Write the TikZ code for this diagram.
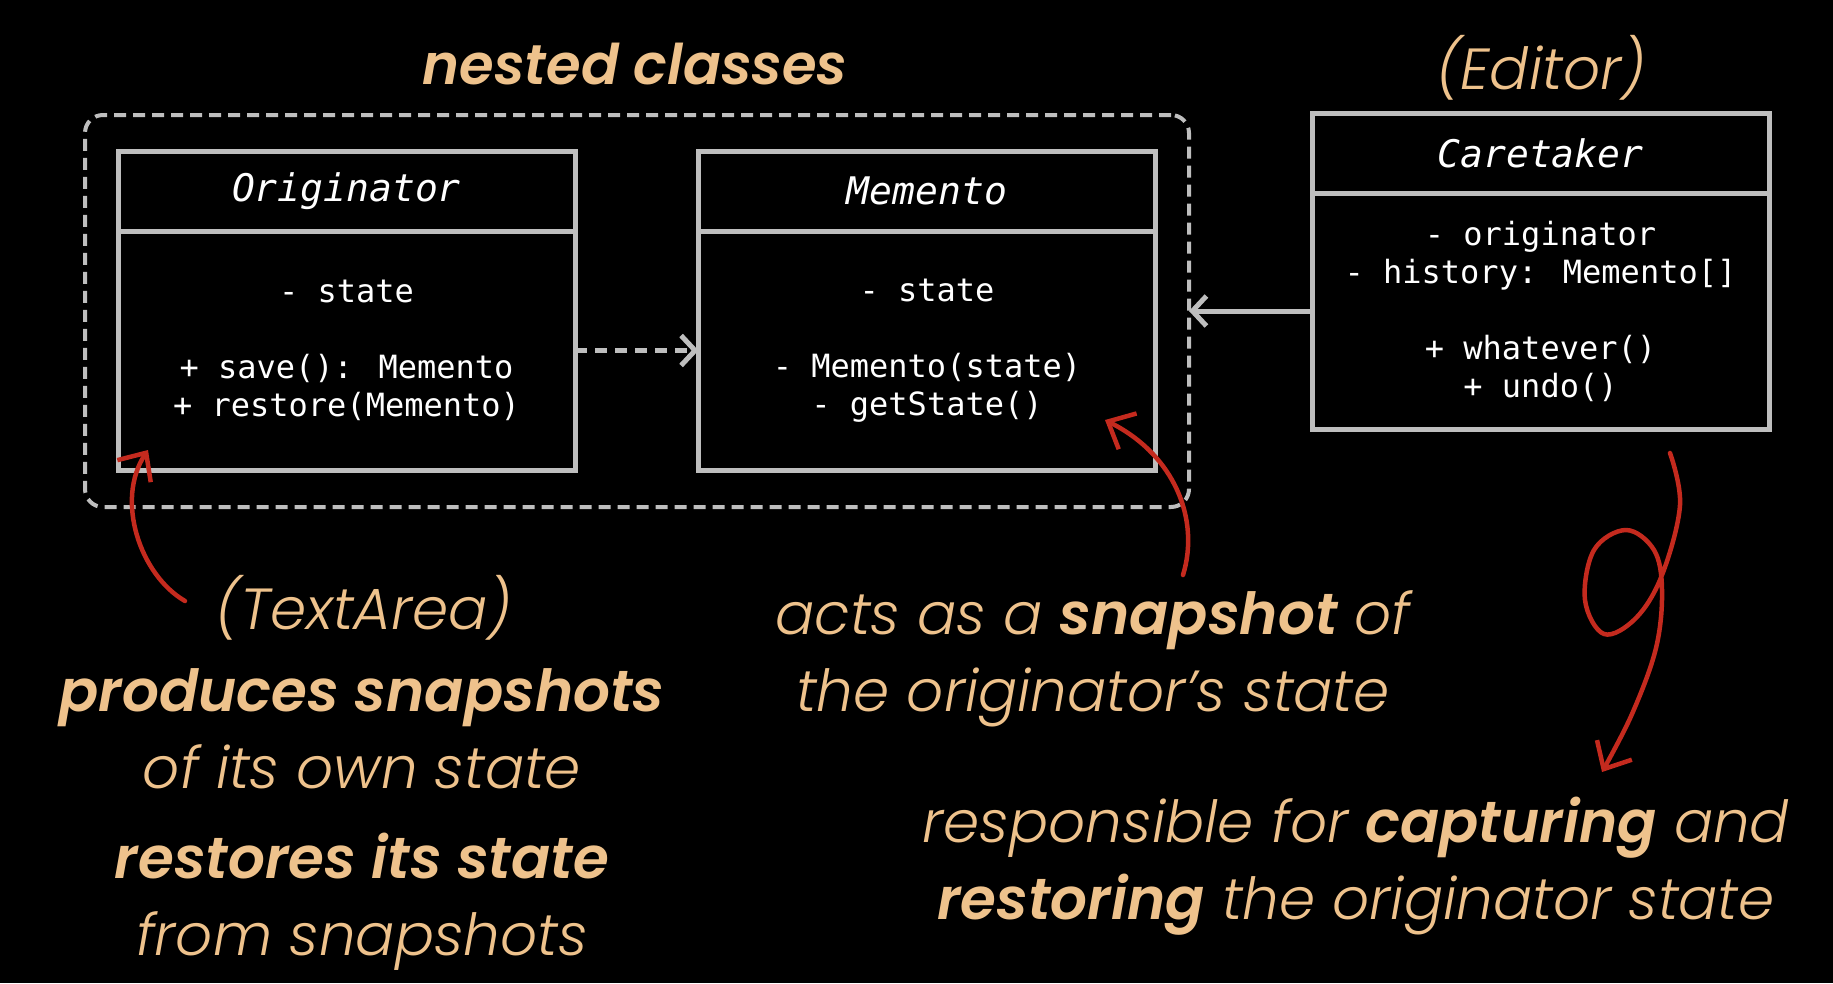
\documentclass[tikz,border=0pt]{standalone}
\usepackage{fontspec}
\usetikzlibrary{arrows.meta,positioning}
\newfontfamily\monofam{DejaVu Sans Mono}
\newfontfamily\notefam{Poppins}[UprightFont=* Light, ItalicFont=* Light Italic, BoldFont=* SemiBold, BoldItalicFont=* SemiBold Italic]
\definecolor{boxgray}{HTML}{BEBEBE}
\definecolor{peach}{HTML}{EEC28C}
\definecolor{markred}{HTML}{C42A1E}

\tikzset{
  classhead/.style={draw=boxgray, line width=5pt, minimum width=457pt, minimum height=80pt,
    inner sep=0pt, outer sep=0pt, text=white, font=\monofam\itshape\fontsize{38}{44}\selectfont},
  classbody/.style={draw=boxgray, line width=5pt, minimum width=457pt, inner sep=0pt,
    outer sep=0pt, text=white, align=center, font=\monofam\fontsize{32}{38}\selectfont},
  note/.style={text=peach, align=center, inner sep=0pt, font=\notefam\itshape\fontsize{58}{77}\selectfont},
  redmark/.style={draw=markred, line width=4.5pt, line cap=round, line join=round,
    -{Straight Barb[length=22pt,width=40pt,line width=4.5pt]}},
}

\begin{document}
\begin{tikzpicture}[x=1pt, y=-1pt]
  \useasboundingbox[fill=black] (0,0) rectangle (1833,983);

  % nested classes frame
  \node[draw=boxgray, line width=4pt, dash pattern=on 12pt off 7pt, rounded corners=18pt,
    minimum width=1104pt, minimum height=392pt, outer sep=0pt] (nest) at (637,311) {};
  \node[note, font=\notefam\bfseries\itshape\fontsize{56}{77}\selectfont] (nestlbl) at (635,64) {nested classes};
  \node[note] (editorlbl) at (1541,68) {(Editor)};

  % classes
  \node[classhead] (orighead) at (346.5,191) {Originator};
  \node[classbody, minimum height=239pt, below=0pt of orighead] (origbody)
    {- state\\[38pt] + save(): Memento\\ + restore(Memento)};

  \node[classhead] (memhead) at (927,191) {Memento};
  \node[classbody, minimum height=239pt, below=0pt of memhead] (membody)
    {- state\\[38pt] - Memento(state)\\ - getState()};

  \node[classhead] (carehead) at (1540.5,153) {Caretaker};
  \node[classbody, minimum height=236pt, below=0pt of carehead] (carebody)
    {- originator\\ - history: Memento[]\\[38pt] + whatever()\\ + undo()};

  % relations
  \draw[boxgray, line width=5pt, dash pattern=on 12pt off 8pt,
    -{Straight Barb[length=14pt,width=30pt,line width=5pt]}] (origbody.east) -- (membody.west);
  \draw[boxgray, line width=5pt,
    -{Straight Barb[length=14pt,width=30pt,line width=5pt]}] (carebody.west) -- (nest.east);

  % notes
  \node[note] (areanote) at (364,608) {(TextArea)};
  \node[note] (orignote) at (362,820)
    {\bfseries produces snapshots\\ of its own state\\[13pt] \bfseries restores its state\\ from snapshots};
  \node[note] (memnote) at (1093,659) {acts as a \textbf{snapshot} of\\ the originator’s state};
  \node[note] (carenote) at (1356,866) {responsible for \textbf{capturing} and\\ \textbf{restoring} the originator state};

  % red marks
  \coordinate (areastart) at (185,601);
  \coordinate (areatip) at (148,450);
  \draw[redmark] (areastart) .. controls (140,575) and (115,500) .. (areatip);

  \coordinate (memstart) at (1183,575);
  \coordinate (memtip) at (1105,420);
  \draw[redmark] (memstart) .. controls (1200,520) and (1175,455) .. (memtip);

  \coordinate (carestart) at (1670,453);
  \coordinate (caretip) at (1602,772);
  \draw[redmark] plot[smooth, tension=0.6] coordinates {(carestart) (1680,505) (1662,575)
    (1636,618) (1604,634) (1585,600) (1594,550) (1626,530) (1654,550) (1662,590)
    (1656,648) (1632,714) (caretip)};
\end{tikzpicture}
\end{document}
